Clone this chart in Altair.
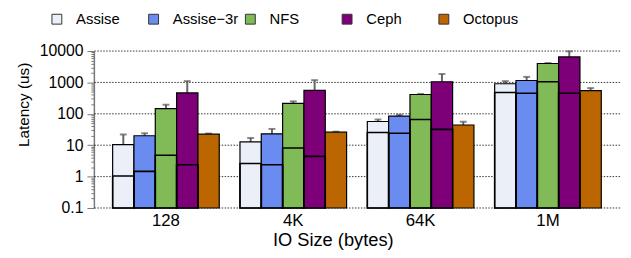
import altair as alt
import pandas as pd

sizes = ["128", "4K", "64K", "1M"]
systems = ["Assise", "Assise\u22123r", "NFS", "Ceph", "Octopus"]
colors = ["#ebeff8", "#6a8cf0", "#80bb58", "#7d0078", "#bb6600"]

mean_vals = {
    "Assise": [10.5, 12.7, 57, 910],
    "Assise\u22123r": [20, 23, 85, 1150],
    "NFS": [146, 215, 412, 4000],
    "Ceph": [463, 560, 1050, 6500],
    "Octopus": [22.5, 26, 44, 550],
}
inner_vals = {
    "Assise": [1.05, 2.6, 25.5, 480],
    "Assise\u22123r": [1.47, 2.4, 24, 455],
    "NFS": [4.8, 8.2, 66, 1050],
    "Ceph": [2.4, 4.4, 32, 455],
    "Octopus": [None, None, None, None],
}
err_vals = {
    "Assise": [22, 17, 66, 1100],
    "Assise\u22123r": [24, 33, 93, 1500],
    "NFS": [195, 250, 430, 4150],
    "Ceph": [1100, 1180, 1860, 9800],
    "Octopus": [23.5, 27, 56, 660],
}

decades = [0.1, 1, 10, 100, 1000, 10000]
minor_ticks = [m * d for d in [0.1, 1, 10, 100, 1000] for m in range(1, 10)] + [10000]

rows = []
for s in systems:
    for i, sz in enumerate(sizes):
        rows.append(dict(size=sz, system=s, mean=mean_vals[s][i],
                         inner=inner_vals[s][i], err=err_vals[s][i], base=0.1))
df = pd.DataFrame(rows)
grid_df = pd.DataFrame({"v": decades})

FONT = "Liberation Sans"
dec_test = "indexof([0.1,1,10,100,1000,10000], datum.value) >= 0"

xenc = alt.X("size:N", sort=sizes,
             scale=alt.Scale(paddingInner=0.1628, paddingOuter=0.1473),
             axis=alt.Axis(title="IO Size (bytes)", labelAngle=0, ticks=False,
                           domain=False, labelFontSize=17, labelPadding=5,
                           labelFont=FONT, titleFont=FONT, titleFontSize=18.5,
                           titleFontWeight="normal", titleColor="black",
                           labelColor="black", titleX=242, titlePadding=2))
xoff = alt.XOffset("system:N", sort=systems,
                   scale=alt.Scale(paddingInner=0, paddingOuter=0))
yscale = alt.Scale(type="log", domain=[0.1, 10000], nice=False)
yaxis = alt.Axis(title="Latency (us)", values=minor_ticks, grid=False,
                 labelExpr="indexof([0.1,1,10,100,1000,10000], datum.value) >= 0 ? format(datum.value, '~g') : ''",
                 tickSize={"condition": {"test": dec_test, "value": 7}, "value": 3},
                 tickColor="#777", domainColor="#777", domainWidth=1.5,
                 labelFontSize=16, labelFont=FONT, labelColor="black",
                 labelPadding=4, titleFont=FONT, titleFontSize=15.5,
                 titleFontWeight="normal", titleColor="black",
                 titleX=-66, titleY=54, titleBaseline="alphabetic")

base = alt.Chart(df)

grid = alt.Chart(grid_df).mark_rule(color="#333", strokeDash=[1.5, 1.5],
                                    strokeWidth=1).encode(
    y=alt.Y("v:Q", scale=yscale, axis=yaxis))

bars = base.mark_bar(stroke="black", strokeWidth=1.2).encode(
    x=xenc, xOffset=xoff,
    y=alt.Y("mean:Q", scale=yscale, axis=yaxis),
    y2="base:Q",
    color=alt.Color("system:N", sort=systems,
                    scale=alt.Scale(domain=systems, range=colors),
                    legend=alt.Legend(title=None, orient="none", direction="horizontal",
                                      columns=5, gridAlign="all", legendX=-45, legendY=-40,
                                      symbolType="square", symbolSize=100,
                                      symbolStrokeColor="#333", symbolStrokeWidth=1,
                                      labelFontSize=15, labelFont=FONT,
                                      labelColor="black", labelOffset=12,
                                      columnPadding=4)))

inner = base.transform_filter("isValid(datum.inner)").mark_bar(
    fill="transparent", stroke="black", strokeWidth=1.6).encode(
    x=xenc, xOffset=xoff,
    y=alt.Y("inner:Q", scale=yscale), y2="base:Q")

errs = base.mark_rule(color="#666", strokeWidth=2).encode(
    x=xenc, xOffset=xoff,
    y=alt.Y("mean:Q", scale=yscale), y2="err:Q")

caps = base.mark_tick(color="#555", thickness=2, size=7, orient="horizontal").encode(
    x=xenc, xOffset=xoff,
    y=alt.Y("err:Q", scale=yscale))

chart = alt.layer(grid, errs, caps, bars, inner).properties(
    width=533, height=159,
    autosize=alt.AutoSizeParams(type="none"),
    padding={"left": 87, "top": 42, "right": 3, "bottom": 45},
).configure_view(stroke=None)

chart.save("out.html", embed_options={"renderer": "svg", "actions": False})
